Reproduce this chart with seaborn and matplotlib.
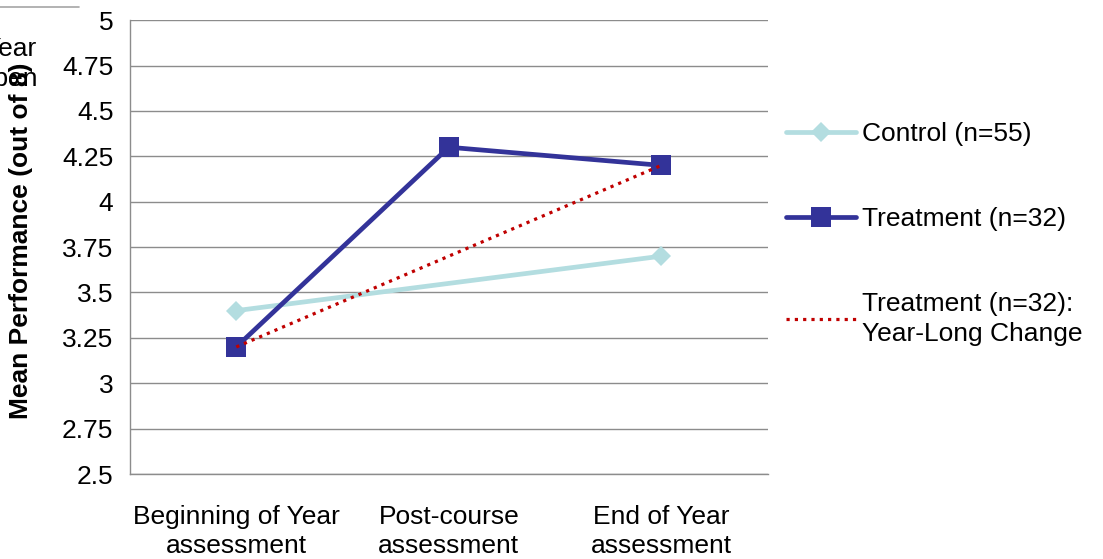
import matplotlib
matplotlib.use("Agg")
import matplotlib.pyplot as plt
import seaborn as sns
import numpy as np
import pandas as pd
from matplotlib.lines import Line2D

# Assessment points and mean scores
categories = ["Beginning of Year\nassessment", "Post-course\nassessment", "End of Year\nassessment"]
control = [3.4, np.nan, 3.7]
treatment = [3.2, 4.3, 4.2]
year_long = [3.2, np.nan, 4.2]
y_ticks = [2.5, 2.75, 3, 3.25, 3.5, 3.75, 4, 4.25, 4.5, 4.75, 5]
y_tick_labels = ["2.5", "2.75", "3", "3.25", "3.5", "3.75", "4", "4.25", "4.5", "4.75", "5"]

sns.set_theme(style="white")
plt.rcParams["font.family"] = ["Liberation Sans", "DejaVu Sans"]
plt.rcParams["text.color"] = "black"
plt.rcParams["xtick.color"] = "black"
plt.rcParams["ytick.color"] = "black"
plt.rcParams["axes.labelcolor"] = "black"

FS = 19
c_control = "#B3DDE0"
c_treat = "#333399"
c_change = "#C00000"
grid_c = "#8C8C8C"

fig = plt.figure(figsize=(11.03, 5.59), dpi=100)
ax = fig.add_axes([0.1179, 0.152, 0.578, 0.812])

pos = np.arange(len(categories))
df = pd.DataFrame({"pos": pos, "control": control, "treatment": treatment, "change": year_long})

for yv in y_ticks:
    ax.axhline(yv, color=grid_c, lw=1.0, zorder=0)

sns.lineplot(data=df, x="pos", y="control", ax=ax, color=c_control, lw=3.4,
             marker="D", markersize=10, markeredgewidth=0, zorder=3)
sns.lineplot(data=df, x="pos", y="treatment", ax=ax, color=c_treat, lw=3.4,
             marker="s", markersize=14, markeredgewidth=0, zorder=4)
sns.lineplot(data=df, x="pos", y="change", ax=ax, color=c_change, lw=2.3,
             linestyle=(0, (1, 1.6)), zorder=5)

ax.set_xlim(-0.5, 2.5)
ax.set_ylim(2.5, 5)
ax.set_yticks(y_ticks)
ax.set_yticklabels(y_tick_labels, fontsize=FS)
ax.set_xticks(pos)
ax.set_xticklabels(categories, fontsize=FS, linespacing=1.3)
ax.tick_params(axis="both", length=0)
ax.tick_params(axis="y", pad=12)
ax.tick_params(axis="x", pad=22)
ax.set_xlabel("")
ax.set_ylabel("Mean Performance (out of 8)", fontsize=FS, fontweight="bold")
ax.yaxis.set_label_coords(-0.152, 0.515)

for side in ["top", "right"]:
    ax.spines[side].set_visible(False)
for side in ["left", "bottom"]:
    ax.spines[side].set_color(grid_c)
    ax.spines[side].set_linewidth(1.0)

handles = [
    Line2D([], [], color=c_control, lw=3.4, marker="D", markersize=10, markeredgewidth=0),
    Line2D([], [], color=c_treat, lw=3.4, marker="s", markersize=14, markeredgewidth=0),
    Line2D([], [], color=c_change, lw=2.3, linestyle=(0, (1, 1.6))),
]
labels = ["Control (n=55)", "Treatment (n=32)", "Treatment (n=32):\nYear-Long Change"]
leg = fig.legend(handles, labels, loc="upper left", bbox_to_anchor=(0.703, 0.80),
                 frameon=False, fontsize=FS, handlelength=2.65, handletextpad=0.25,
                 labelspacing=2.3, borderaxespad=0)
for t in leg.get_texts():
    t.set_linespacing(1.35)

# fragments at the upper-left edge
fig.add_artist(Line2D([0, 0.072], [0.987, 0.987], color="#A6A6A6", lw=1.2, transform=fig.transFigure))
fig.text(0.033, 0.913, "Year", ha="right", va="center", fontsize=FS)
fig.text(0.035, 0.858, "Open", ha="right", va="center", fontsize=FS)

fig.savefig("out.png", dpi=100)
